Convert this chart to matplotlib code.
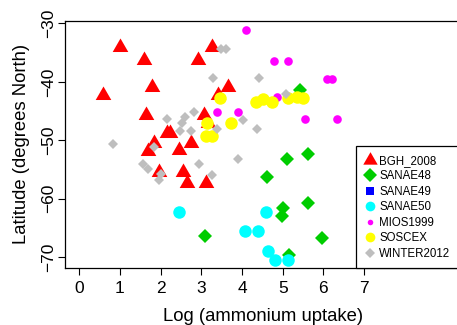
import matplotlib
matplotlib.use("Agg")
import matplotlib.pyplot as plt
from matplotlib.lines import Line2D

plt.rcParams['font.family'] = ['Liberation Sans', 'DejaVu Sans']

# data (x = log ammonium uptake, y = latitude)
bgh_x = [1.01, 1.59, 2.91, 3.25, 1.78, 0.59, 3.65, 3.42, 1.63, 3.06, 2.15, 2.23,
         3.17, 2.74, 1.70, 1.83, 2.45, 1.96, 2.56, 2.65, 3.11]
bgh_y = [-34.1, -36.3, -36.3, -34.1, -40.9, -42.3, -40.9, -42.3, -45.7, -45.7, -48.8, -48.8,
         -47.1, -50.4, -51.8, -50.5, -51.6, -55.4, -55.4, -57.4, -57.4]

sanae48_x = [5.42, 5.11, 5.61, 4.62, 5.01, 5.63, 4.99, 3.09, 5.97, 5.16]
sanae48_y = [-41.4, -53.2, -52.4, -56.3, -61.6, -60.7, -63.0, -66.4, -66.7, -69.7]

sanae49_x = []
sanae49_y = []

sanae50_x = [2.46, 4.60, 4.07, 4.40, 4.64, 4.81, 5.12]
sanae50_y = [-62.3, -62.3, -65.6, -65.6, -68.9, -70.6, -70.6]

mios_x = [4.09, 3.39, 3.91, 4.78, 5.13, 6.08, 6.20, 4.87, 5.55, 6.34]
mios_y = [-31.1, -45.1, -45.1, -36.5, -36.5, -39.5, -39.5, -42.6, -46.3, -46.3]

soscex_x = [3.46, 3.72, 3.13, 3.11, 3.25, 4.35, 4.51, 4.73, 5.14, 5.34, 5.50]
soscex_y = [-42.7, -47.0, -47.0, -49.3, -49.3, -43.5, -42.95, -43.5, -42.8, -42.55, -42.7]

winter_x = [3.48, 3.60, 3.29, 4.42, 2.82, 2.15, 2.60, 2.52, 4.03, 3.38, 4.37, 2.47,
            2.74, 0.84, 1.84, 5.08, 1.56, 1.70, 2.01, 1.96, 2.95, 3.89, 3.27]
winter_y = [-34.3, -34.3, -39.4, -39.4, -45.1, -46.3, -46.0, -47.1, -46.5, -48.0, -48.0, -48.4,
            -48.4, -50.6, -51.1, -42.1, -54.0, -55.0, -55.8, -56.8, -54.0, -53.3, -56.0]

x_ticks = [0, 1, 2, 3, 4, 5, 6, 7]
y_ticks = [-30, -40, -50, -60, -70]

tri = [(-1, -0.5774), (1, -0.5774), (0, 1.1547)]

fig = plt.figure(figsize=(4.57, 3.25), dpi=100)
ax = fig.add_axes([64.6 / 457, 56.7 / 325, 397.2 / 457, 247.8 / 325])

series = [
    ("BGH_2008", bgh_x, bgh_y, tri, '#FF0000', 13.0, 12.0),
    ("SANAE48", sanae48_x, sanae48_y, 'D', '#00CD00', 7.1, 6.8),
    ("SANAE49", sanae49_x, sanae49_y, 's', '#0000FF', 6.5, 5.5),
    ("SANAE50", sanae50_x, sanae50_y, 'o', '#00FFFF', 9.0, 7.0),
    ("MIOS1999", mios_x, mios_y, 'o', '#FF00FF', 6.2, 4.0),
    ("SOSCEX", soscex_x, soscex_y, 'o', '#FFFF00', 9.0, 7.0),
    ("WINTER2012", winter_x, winter_y, 'D', '#BEBEBE', 5.4, 4.8),
]

handles = []
for name, xs, ys, mk, col, ms, lms in series:
    ax.plot(xs, ys, linestyle='none', marker=mk, color=col, markersize=ms,
            markeredgewidth=0, label=name)
    handles.append(Line2D([], [], linestyle='none', marker=mk, color=col,
                          markersize=lms, markeredgewidth=0))

ax.set_xlim(-0.36, 9.4)
ax.set_ylim(-71.94, -29.49)
ax.set_xticks(x_ticks)
ax.set_yticks(y_ticks)
ax.set_yticklabels([str(t).replace('-', '\u2212') for t in y_ticks],
                   rotation=90, va='center')
ax.tick_params(axis='both', direction='out', length=5, width=0.8, labelsize=12.5)
ax.tick_params(axis='y', pad=1)
ax.tick_params(axis='x', pad=4)
for s in ax.spines.values():
    s.set_linewidth(0.9)
ax.spines['right'].set_visible(False)

ax.set_xlabel("Log (ammonium uptake)", fontsize=13.3, labelpad=9)
ax.set_ylabel("Latitude (degrees North)", fontsize=13.3, labelpad=8)

leg = ax.legend(handles, [s[0] for s in series], loc='lower left',
                bbox_to_anchor=(355.5 / 457, 56.7 / 325),
                bbox_transform=fig.transFigure, fontsize=8.3,
                frameon=True, fancybox=False, framealpha=1, borderpad=0.75,
                labelspacing=0.3, handlelength=1.0, handletextpad=0.3,
                borderaxespad=0)
leg.get_frame().set_edgecolor('black')
leg.get_frame().set_linewidth(0.9)

fig.savefig("out.png", dpi=100)
